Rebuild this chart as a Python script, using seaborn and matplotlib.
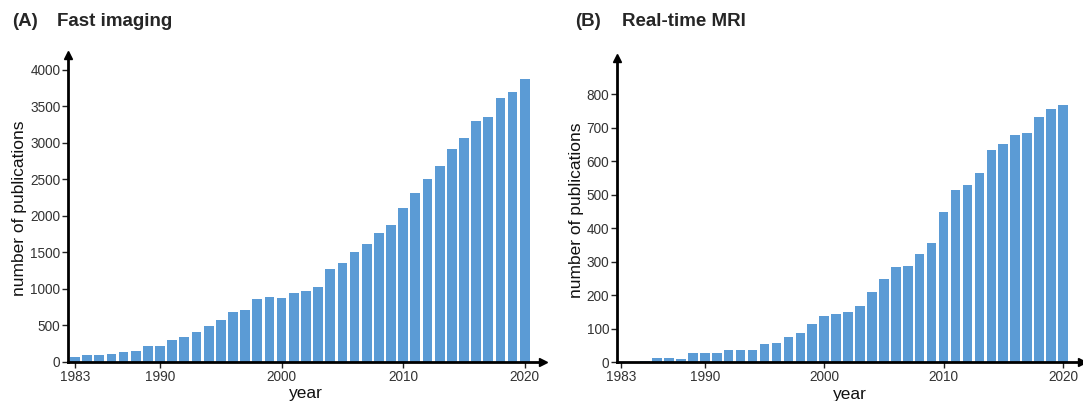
import matplotlib
matplotlib.use("Agg")
import matplotlib.pyplot as plt
import numpy as np
import seaborn as sns

# publications per year
years = list(range(1983, 2021))
fast_imaging = [68, 96, 96, 110, 137, 155, 215, 224, 306, 342,
                406, 493, 575, 680, 717, 863, 886, 872, 950, 973,
                1032, 1269, 1361, 1511, 1612, 1763, 1872, 2110, 2315, 2511,
                2680, 2918, 3068, 3297, 3352, 3612, 3694, 3872]
realtime_mri = [2, 2, 5, 12, 12, 9, 29, 29, 29, 37,
                37, 37, 54, 58, 77, 87, 115, 138, 143, 149,
                168, 211, 250, 285, 288, 325, 357, 448, 515, 530,
                565, 634, 653, 678, 684, 732, 756, 770]
xticks = [1983, 1990, 2000, 2010, 2020]
yticks_a = list(range(0, 4001, 500))
yticks_b = list(range(0, 801, 100))

sns.set_style("white")
plt.rcParams["font.family"] = ["Liberation Sans", "DejaVu Sans"]

bar_color = "#5B9BD5"

fig = plt.figure(figsize=(10.83, 4.01), dpi=100)
ax_a = fig.add_axes([0.0628, 0.0973, 0.4386, 0.7655])
ax_b = fig.add_axes([0.5697, 0.0965, 0.4294, 0.758])


def style_axis(ax, values, yticks, ylim_top, xlim):
    sns.barplot(x=years, y=values, native_scale=True, color=bar_color,
                saturation=1, width=0.8, edgecolor="none", ax=ax)
    ax.set_xlim(*xlim)
    ax.set_ylim(0, ylim_top)
    ax.set_xticks(xticks)
    ax.set_xticklabels([str(t) for t in xticks])
    ax.set_yticks(yticks)
    ax.set_xlabel("year", fontsize=12.5, labelpad=2, color="#111111")
    ax.set_ylabel("number of publications", fontsize=12.5, labelpad=2, color="#111111")
    ax.tick_params(axis="both", labelsize=9.8, length=4, width=1, color="#222222",
                   pad=1.5, bottom=True, left=True, labelcolor="#333333")
    for side in ["top", "right"]:
        ax.spines[side].set_visible(False)
    for side in ["left", "bottom"]:
        ax.spines[side].set_linewidth(2)
        ax.spines[side].set_color("black")
    # arrow heads at the axis ends
    ax.plot(1, 0, ">", color="black", markersize=6, transform=ax.transAxes, clip_on=False)
    ax.plot(0, 1, "^", color="black", markersize=6, transform=ax.transAxes, clip_on=False)


style_axis(ax_a, fast_imaging, yticks_a, 4205, (1982.43, 2021.5))
style_axis(ax_b, realtime_mri, yticks_b, 908, (1982.64, 2021.6))

fig.text(12 / 1083, 1 - 22 / 401, "(A)", fontsize=13.5, fontweight="bold", va="center")
fig.text(57 / 1083, 1 - 22 / 401, "Fast imaging", fontsize=13.5, fontweight="bold", va="center")
fig.text(575 / 1083, 1 - 22 / 401, "(B)", fontsize=13.5, fontweight="bold", va="center")
fig.text(622 / 1083, 1 - 22 / 401, "Real-time MRI", fontsize=13.5, fontweight="bold", va="center")

fig.savefig("out.png", dpi=100)
